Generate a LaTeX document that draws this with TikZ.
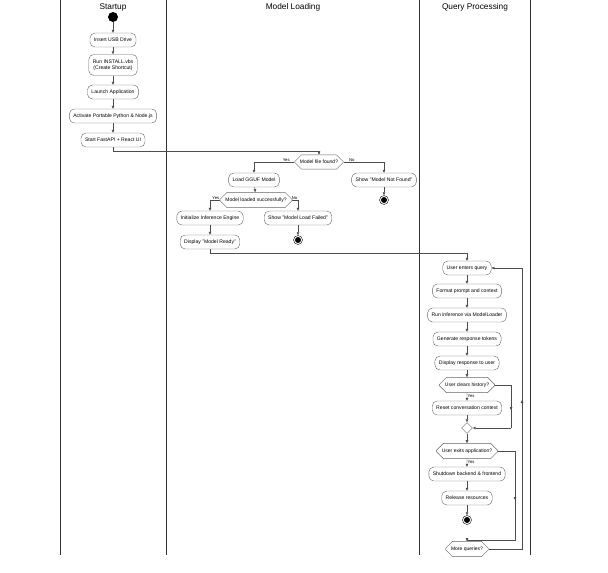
\documentclass[tikz,border=0pt]{standalone}
\usepackage{fontspec}
\setmainfont{Liberation Sans}
\usetikzlibrary{shapes.misc,shapes.geometric,arrows.meta}
\begin{document}
\begin{tikzpicture}[x=1pt,y=-1pt,
  act/.style={draw=black!60,rounded corners=5pt,fill=white,font=\fontsize{5.1}{5.8}\selectfont,inner xsep=4pt,minimum height=14pt,align=center,line width=0.4pt},
  dec/.style={draw=black!60,chamfered rectangle,chamfered rectangle xsep=2cm,chamfered rectangle sep=3.5pt,fill=white,font=\fontsize{5}{5.6}\selectfont,inner xsep=2pt,inner ysep=1.8pt,minimum height=10pt,line width=0.4pt},
  lbl/.style={font=\fontsize{4.2}{4.6}\selectfont,inner sep=0.5pt},
  hd/.style={font=\fontsize{8.3}{9}\selectfont},
  fl/.style={draw=black!70,line width=0.45pt,-{Triangle[length=3pt,width=2.6pt]}},
  ln/.style={draw=black!70,line width=0.45pt},
  lane/.style={draw=black!80,line width=0.6pt}]
\useasboundingbox (0,0) rectangle (608,573);
\foreach \x in {60,166,419,530} \draw[lane] (\x,0) -- (\x,555);
\node[hd] (h1) at (113,7) {Startup};
\node[hd] (h2) at (293,7) {Model Loading};
\node[hd] (h3) at (475,7) {Query Processing};
% startup
\node[circle,fill=black,inner sep=0pt,minimum size=10pt] (s) at (113,17) {};
\node[act] (a1) at (113,40) {Insert USB Drive};
\node[act,minimum height=21pt] (a2) at (113,65) {Run INSTALL.vbs\\(Create Shortcut)};
\node[act] (a3) at (113,92) {Launch Application};
\node[act] (a4) at (113,116) {Activate Portable Python \& Node.js};
\node[act] (a5) at (113,140) {Start FastAPI + React UI};
\draw[fl] (s) -- (a1); \draw[fl] (a1) -- (a2); \draw[fl] (a2) -- (a3);
\draw[fl] (a3) -- (a4); \draw[fl] (a4) -- (a5);
% model loading
\node[dec] (d1) at (319,162) {Model file found?};
\draw[fl] (a5.south) |- (319,151) -- (d1.north);
\node[act] (b1) at (254,180) {Load GGUF Model};
\node[act] (b2) at (384,180) {Show "Model Not Found"};
\node[circle,draw=black,inner sep=0pt,minimum size=9pt] (e1) at (384,200) {};
\fill (e1) circle (3pt);
\draw[fl] (d1.west) -| (b1.north) node[lbl,pos=0.1,above] {Yes};
\draw[fl] (d1.east) -| (b2.north) node[lbl,pos=0.1,above] {No};
\draw[fl] (b2) -- (e1);
\node[dec] (d2) at (256,200) {Model loaded successfully?};
\draw[fl] (b1) -- (d2);
\node[act] (b3) at (210,218) {Initialize Inference Engine};
\node[act] (b4) at (298,218) {Show "Model Load Failed"};
\node[circle,draw=black,inner sep=0pt,minimum size=9pt] (e2) at (298,240) {};
\fill (e2) circle (3pt);
\draw[fl] (d2.west) -| (b3.north) node[lbl,pos=0.2,above] {Yes};
\draw[fl] (d2.east) -| (b4.north) node[lbl,pos=0.2,above] {No};
\draw[fl] (b4) -- (e2);
\node[act] (b5) at (210,242) {Display "Model Ready"};
\draw[fl] (b3) -- (b5);
% query
\node[act] (c1) at (467,268) {User enters query};
\draw[fl] (b5.south) |- (467,253) -- (c1.north);
\node[act] (c2) at (467,291) {Format prompt and context};
\node[act] (c3) at (467,315) {Run inference via ModelLoader};
\node[act] (c4) at (467,339) {Generate response tokens};
\node[act] (c5) at (467,363) {Display response to user};
\draw[fl] (c1) -- (c2); \draw[fl] (c2) -- (c3); \draw[fl] (c3) -- (c4); \draw[fl] (c4) -- (c5);
\node[dec] (d3) at (467,385) {User clears history?};
\draw[fl] (c5) -- (d3);
\node[act] (c6) at (467,408) {Reset conversation context};
\draw[fl] (d3) -- (c6) node[lbl,pos=0.35,right] {Yes};
\node[diamond,draw=black!60,fill=white,inner sep=0pt,minimum size=11pt] (m) at (467,428) {};
\draw[fl] (c6) -- (m);
\draw[ln] (d3.east) -- (511,385) -- (511,428);
\draw[fl] (511,395) -- (511,410);
\draw[fl] (511,428) -- (m.east);
\node[dec] (d4) at (467,451) {User exits application?};
\draw[fl] (m) -- (d4);
\node[act] (c7) at (467,474) {Shutdown backend \& frontend};
\draw[fl] (d4) -- (c7) node[lbl,pos=0.35,right] {Yes};
\node[act] (c8) at (467,498) {Release resources};
\draw[fl] (c7) -- (c8);
\node[circle,draw=black,inner sep=0pt,minimum size=9pt] (e3) at (467,520) {};
\fill (e3) circle (3pt);
\draw[fl] (c8) -- (e3);
\node[dec] (d5) at (467,549) {More queries?};
\draw[ln] (d4.east) -- (515,451) -- (515,540) -- (467,540);
\draw[fl] (515,480) -- (515,500);
\draw[fl] (467,540) -- (d5.north);
\draw[ln] (d5.east) -- (522,549) -- (522,268);
\draw[fl] (522,420) -- (522,400);
\draw[fl] (522,268) -- (c1.east);
\end{tikzpicture}
\end{document}
